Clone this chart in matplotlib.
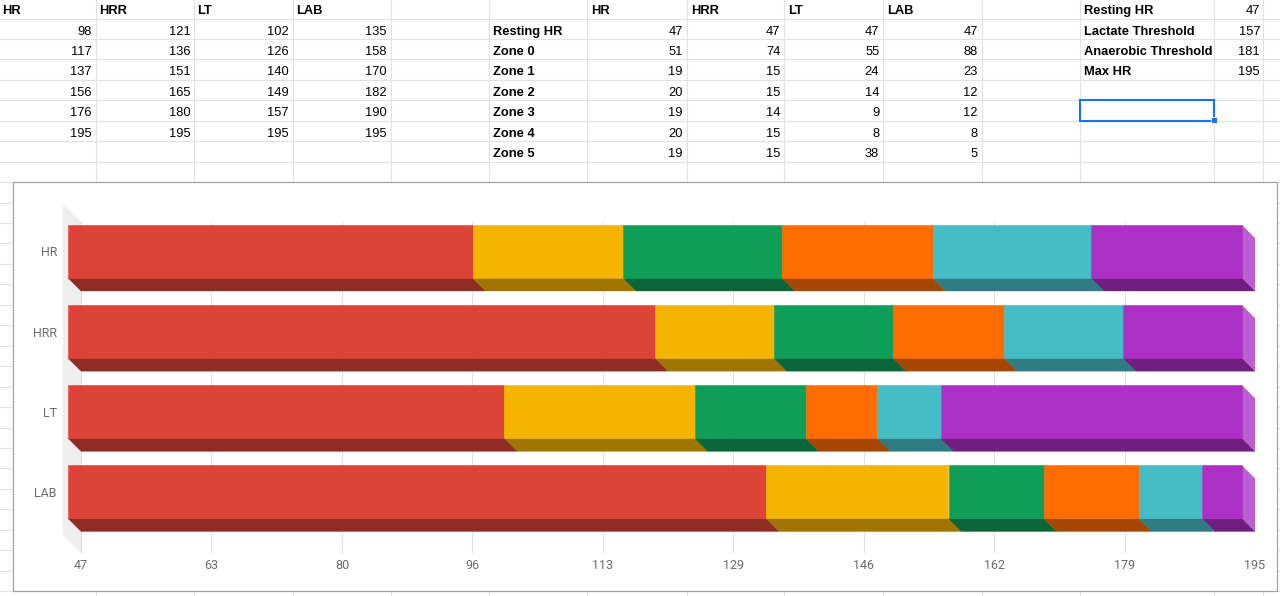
import numpy as np
import matplotlib.pyplot as plt
from matplotlib.patches import Rectangle, Polygon

# chart data: stacked heart-rate zones per method (base = resting HR)
categories = ['HR', 'HRR', 'LT', 'LAB']
resting_hr = [47, 47, 47, 47]
zone_names = ['Zone 0', 'Zone 1', 'Zone 2', 'Zone 3', 'Zone 4', 'Zone 5']
zone0 = [51, 74, 55, 88]
zone1 = [19, 15, 24, 23]
zone2 = [20, 15, 14, 12]
zone3 = [19, 14, 9, 12]
zone4 = [20, 15, 8, 8]
zone5 = [19, 15, 38, 5]
zones = [zone0, zone1, zone2, zone3, zone4, zone5]
zone_colors = ['#DB4437', '#F4B400', '#0F9D58', '#FF6D01', '#46BDC6', '#AB30C4']

# zone upper bounds (left table)
hr_bounds = [98, 117, 137, 156, 176, 195]
hrr_bounds = [121, 136, 151, 165, 180, 195]
lt_bounds = [102, 126, 140, 149, 157, 195]
lab_bounds = [135, 158, 170, 182, 190, 195]

# reference values (right table)
ref_labels = ['Resting HR', 'Lactate Threshold', 'Anaerobic Threshold', 'Max HR']
ref_values = [47, 157, 181, 195]

x_min, x_max = 47, 195
x_ticks = np.linspace(x_min, x_max, 10)

sheet_font = 'Liberation Sans'
plt.rcParams['font.family'] = ['Roboto', 'DejaVu Sans']

fig = plt.figure(figsize=(12.8, 5.96), dpi=100)

# ---- spreadsheet background (pixel coordinates) ----
bg = fig.add_axes([0, 0, 1, 1])
bg.set_xlim(0, 1280)
bg.set_ylim(596, 0)
bg.axis('off')

grid_c = '#e2e2e2'
row_h = 20.45
for y in np.arange(18.5, 596, row_h):
    bg.axhline(y, color=grid_c, lw=0.8, zorder=0)
col_lines = [95.7, 194.3, 292.7, 391, 489, 587.3, 686.7, 784.3, 883.3, 981.7, 1080, 1214.3, 1263.3]
for x in col_lines:
    bg.axvline(x, color=grid_c, lw=0.8, zorder=0)


def row_base(r):
    return 9.5 + r * row_h + 4.6


fs = 9.3
# left table: zone upper bounds
left_cols = [-1, 95.7, 194.3, 292.7, 391]
for j, (name, vals) in enumerate(zip(categories, [hr_bounds, hrr_bounds, lt_bounds, lab_bounds])):
    bg.text(left_cols[j] + 3, row_base(0), name, family=sheet_font, fontsize=fs,
            fontweight='bold', va='baseline', ha='left')
    for r, v in enumerate(vals):
        bg.text(left_cols[j + 1] - 4, row_base(r + 1), str(v), family=sheet_font,
                fontsize=fs, va='baseline', ha='right')

# middle table: zone widths
mid_cols = [587.3, 686.7, 784.3, 883.3, 981.7]
row_names = ['Resting HR'] + zone_names
row_vals = [resting_hr] + zones
for j, name in enumerate(categories):
    bg.text(mid_cols[j] + 4, row_base(0), name, family=sheet_font, fontsize=fs,
            fontweight='bold', va='baseline', ha='left')
for r, (name, vals) in enumerate(zip(row_names, row_vals)):
    bg.text(493, row_base(r + 1), name, family=sheet_font, fontsize=fs,
            fontweight='bold', va='baseline', ha='left')
    for j, v in enumerate(vals):
        bg.text(mid_cols[j + 1] - 4, row_base(r + 1), str(v), family=sheet_font,
                fontsize=fs, va='baseline', ha='right')

# right table: reference heart rates
for r, (name, v) in enumerate(zip(ref_labels, ref_values)):
    bg.text(1084, row_base(r), name, family=sheet_font, fontsize=fs,
            fontweight='bold', va='baseline', ha='left')
    bg.text(1260, row_base(r), str(v), family=sheet_font, fontsize=fs,
            va='baseline', ha='right')

# selected cell
bg.add_patch(Rectangle((1080, 18.5 + 4 * row_h), 1214.3 - 1080, row_h, fill=False,
                       edgecolor='#1a73e8', lw=1.5, zorder=2))
bg.add_patch(Rectangle((1210.5, 18.5 + 5 * row_h - 3.5), 6, 6, facecolor='#1a73e8',
                       edgecolor='white', lw=0.6, zorder=3))

# chart frame
bg.add_patch(Rectangle((13, 182), 1264, 409, facecolor='white', edgecolor='#a3a3a3',
                       lw=0.9, zorder=4))

# ---- 3D-looking stacked bar chart ----
ax = fig.add_axes([81 / 1280, 43 / 596, 1174 / 1280, 331 / 596])
ax.set_zorder(5)
ax.patch.set_alpha(0)
y_top, y_bot = -0.53, 3.6
ax.set_xlim(x_min, x_max)
ax.set_ylim(y_bot, y_top)
for s in ax.spines.values():
    s.set_visible(False)

px_x = (x_max - x_min) / 1174.0
px_y = (y_bot - y_top) / 331.0
dx, dy = 13 * px_x, 13 * px_y
wx, wy = 18 * px_x, 18 * px_y
bar_h = 53 * px_y

# left wall
ax.add_patch(Polygon([(x_min - wx, y_top - wy), (x_min, y_top), (x_min, y_bot),
                      (x_min - wx, y_bot - wy)], closed=True, facecolor='#eeeeee',
                     edgecolor='none', clip_on=False, zorder=0.5))
for t in x_ticks:
    ax.axvline(t, color='#e0e0e0', lw=0.8, zorder=0)


def shade(c, f):
    r, g, b = plt.matplotlib.colors.to_rgb(c)
    return (r * f, g * f, b * f)


def tint(c, f):
    r, g, b = plt.matplotlib.colors.to_rgb(c)
    return (r + (1 - r) * f, g + (1 - g) * f, b + (1 - b) * f)


y_pos = np.arange(len(categories))
y_front = y_pos - dy
left = np.array(resting_hr, dtype=float)
for vals, c in zip(zones, zone_colors):
    vals = np.array(vals, dtype=float)
    for yf, x0, w in zip(y_front, left, vals):
        yb = yf + bar_h / 2
        dark = shade(c, 0.65)
        ax.add_patch(Polygon([(x0 - dx, yb), (x0 + w - dx, yb), (x0 + w, yb + dy), (x0, yb + dy)],
                             closed=True, facecolor=dark, edgecolor=dark, lw=0.3,
                             clip_on=False, zorder=2))
    ax.barh(y_front, vals, left=left - dx, height=bar_h, color=c, edgecolor=c,
            linewidth=0.4, zorder=3, clip_on=False)
    left = left + vals

# right end faces
for yf, r in zip(y_front, left):
    yt, yb = yf - bar_h / 2, yf + bar_h / 2
    ax.add_patch(Polygon([(r - dx, yt), (r, yt + dy), (r, yb + dy), (r - dx, yb)], closed=True,
                         facecolor=tint(zone_colors[-1], 0.22), edgecolor='none',
                         clip_on=False, zorder=2))

ax.set_xticks(x_ticks, [str(int(round(t))) for t in x_ticks])
ax.set_yticks(y_front, categories)
ax.tick_params(axis='x', length=0, labelsize=9, labelcolor='#6b6b6b', pad=4)
ax.tick_params(axis='y', length=0, labelsize=9, labelcolor='#6b6b6b', pad=17.3)

fig.savefig('out.png', dpi=100)
